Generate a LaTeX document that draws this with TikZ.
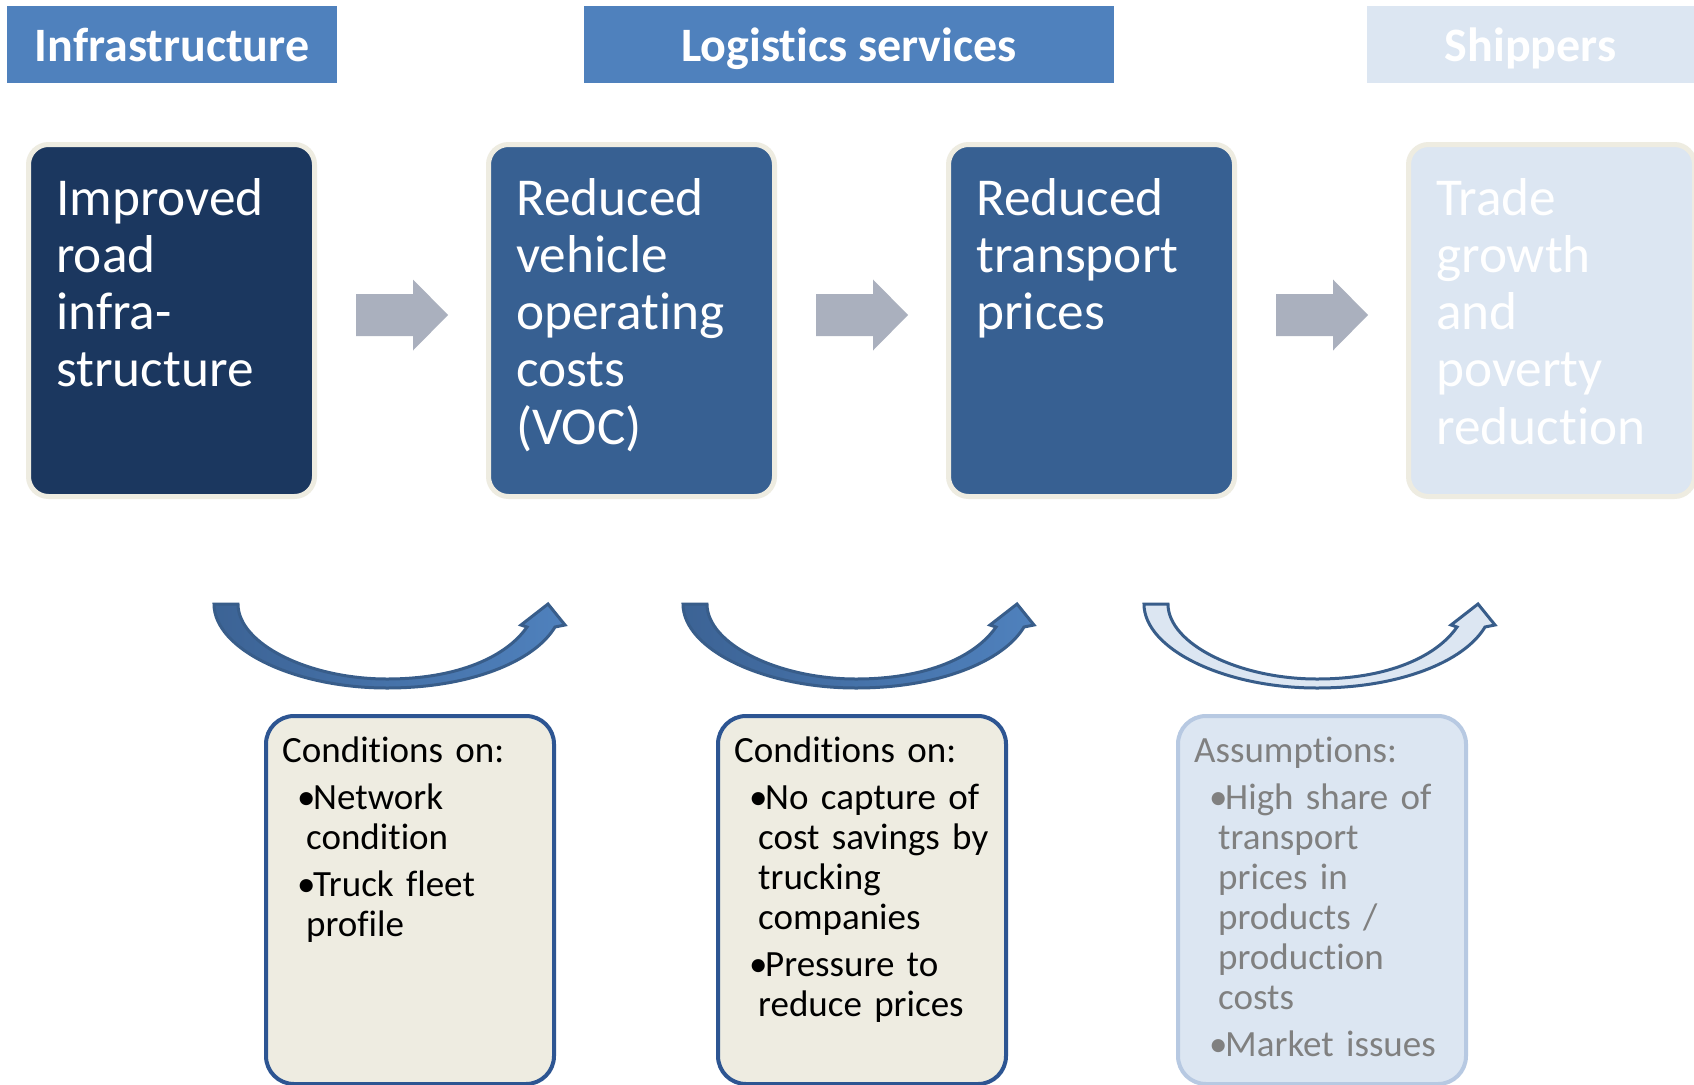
\documentclass[tikz,border=0pt]{standalone}
\usepackage{fontspec}
\setmainfont[Ligatures=NoCommon]{Carlito}
\usetikzlibrary{calc}

\definecolor{hdrblue}{HTML}{4F81BD}
\definecolor{hdrlight}{HTML}{DCE6F2}
\definecolor{navy}{HTML}{1B375F}
\definecolor{midblue}{HTML}{376092}
\definecolor{cream}{HTML}{EEECE1}
\definecolor{arrowgray}{HTML}{AAB0BE}
\definecolor{condline}{HTML}{2D5592}
\definecolor{assumline}{HTML}{B7C9E2}
\definecolor{assumtext}{HTML}{808080}
\definecolor{bandline}{HTML}{385D8A}
\definecolor{banddark}{HTML}{3C6395}
\definecolor{bandlight}{HTML}{4F81BD}

% bullet with hanging indent for the condition lists
\newcommand{\cbul}{\hspace*{-9pt}\makebox[16pt][l]{•}}

\tikzset{
  hdr/.style={rectangle, inner sep=0pt, minimum height=77pt,
    text height=33pt, text depth=0pt, text=white,
    font=\fontsize{48}{50}\selectfont\bfseries},
  bigbox/.style={rectangle, rounded corners=20pt, draw=cream, line width=5pt,
    minimum width=286pt, minimum height=352pt, anchor=north west, inner sep=0pt},
  bigtext/.style={anchor=base west, inner sep=0pt, text width=255pt, align=left,
    text=white, font=\fontsize{53.3}{57.3}\selectfont},
  condbox/.style={rectangle, rounded corners=28pt, line width=4pt,
    minimum width=288pt, minimum height=368pt, anchor=north west, inner sep=0pt},
  condtext/.style={anchor=base west, inner sep=0pt, text width=265pt, align=left,
    font=\fontsize{37}{40}\selectfont},
  bandblue/.style={draw=bandline, line width=3pt, left color=banddark, right color=bandlight},
  bandpale/.style={draw=bandline, line width=3pt, fill=hdrlight},
  % block arrow between two stages, centred on the placement point
  grayarrow/.pic={
    \fill[arrowgray] (-46,-21) -- (11,-21) -- (11,-35.5) -- (46,0)
      -- (11,35.5) -- (11,21) -- (-46,21) -- cycle;
  },
  % curved band arrow under the stages
  bendarrow/.pic={
    \path[#1] (0,0) .. controls (0,45) and (80,84) .. (173,84)
      .. controls (255,84) and (320,58) .. (341,23)
      -- (351,21) -- (334,0) -- (307,21) -- (313,23)
      .. controls (293,52) and (245,75) .. (173,75)
      .. controls (95,75) and (24,40) .. (24,0) -- cycle;
  },
}

\begin{document}
\begin{tikzpicture}[x=1pt,y=-1pt]
\useasboundingbox[fill=white] (0,0) rectangle (1694,1084);

% column headers
\node[hdr, fill=hdrblue, minimum width=330pt] (hInfra) at (172,44.5) {Infrastructure};
\node[hdr, fill=hdrblue, minimum width=530pt] (hLog) at (849,44.5) {Logistics services};
\node[hdr, fill=hdrlight, minimum width=327pt] (hShip) at (1530.5,44.5) {Shippers};

% stages
\node[bigbox, fill=navy] (b1) at (26,142) {};
\node[bigbox, fill=midblue] (b2) at (486,142) {};
\node[bigbox, fill=midblue] (b3) at (946,142) {};
\node[bigbox, fill=hdrlight] (b4) at (1406,142) {};

\node[bigtext] (t1) at (56,215) {Improved\newline road\newline infra-\newline structure};
\node[bigtext] (t2) at (516,215) {Reduced\newline vehicle\newline operating\newline costs\newline (VOC)};
\node[bigtext] (t3) at (976,215) {Reduced\newline transport\newline prices};
\node[bigtext] (t4) at (1436,215) {Trade\newline growth\newline and\newline poverty\newline reduction};

% block arrows between stages
\pic at ($(b1.east)!0.5!(b2.west)+(0.5,-5.5)$) {grayarrow};
\pic at ($(b2.east)!0.5!(b3.west)+(0.5,-5.5)$) {grayarrow};
\pic at ($(b3.east)!0.5!(b4.west)+(0.5,-5.5)$) {grayarrow};

% curved arrows
\pic at (214,604) {bendarrow=bandblue};
\pic at (683,604) {bendarrow=bandblue};
\pic at (1144,604) {bendarrow=bandpale};

% conditions and assumptions
\node[condbox, fill=cream, draw=condline] (c1) at (264,714) {};
\node[condbox, fill=cream, draw=condline] (c2) at (716,714) {};
\node[condbox, fill=hdrlight, draw=assumline] (c3) at (1176,714) {};

\node[condtext] (ct1) at (282,762) {Conditions on:\par
  \leftskip=24pt \parskip=7pt
  \cbul Network\newline condition\par
  \cbul Truck fleet\newline profile\par};
\node[condtext] (ct2) at (734,762) {Conditions on:\par
  \leftskip=24pt \parskip=7pt
  \cbul No capture of\newline cost savings by\newline trucking\newline companies\par
  \cbul Pressure to\newline reduce prices\par};
\node[condtext, text=assumtext] (ct3) at (1194,762) {Assumptions:\par
  \leftskip=24pt \parskip=7pt
  \cbul High share of\newline transport\newline prices in\newline products /\newline production\newline costs\par
  \cbul Market issues\par};
\end{tikzpicture}
\end{document}
